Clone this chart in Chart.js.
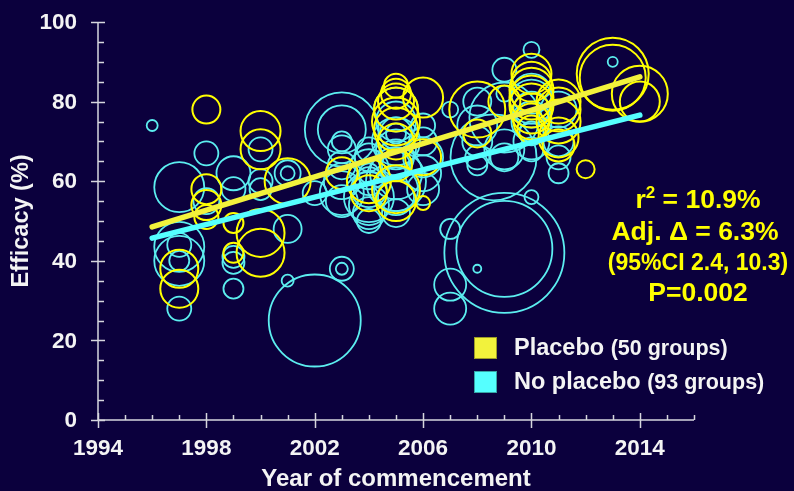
<!DOCTYPE html>
<html>
<head>
<meta charset="utf-8">
<script src="https://cdn.jsdelivr.net/npm/chart.js@4/dist/chart.umd.min.js"></script>
<style>
  html, body { margin: 0; padding: 0; background: #0b003d; }
  #wrap { width: 794px; height: 491px; }
  canvas { display: block; }
</style>
</head>
<body>
<div id="wrap"><canvas id="chart" width="794" height="491"></canvas></div>
<script>
// Each group: [year of commencement, efficacy (%), group size]
const placeboGroups = [
  [1997,38,1444],[1997,33,1444],
  [1998,78,784],[1998,58,900],[1998,54,900],[1998,51,576],
  [1999,49.5,400],[1999,42,400],
  [2000,72.6,1600],[2000,68,1600],[2000,47,2304],[2000,42,2304],
  [2001,60,2116],
  [2003,62,1024],
  [2004,60,1936],[2004,57,1296],
  [2005,84,576],[2005,82,900],[2005,80,1296],[2005,78,1936],[2005,75,2304],
  [2005,73,1936],[2005,70,1296],[2005,64,1024],[2005,58,2304],[2005,55,1600],
  [2006,81,1600],[2006,54.5,196],[2006,66,1296],
  [2008,78,3136],[2008,72,784],
  [2009,80,1024],
  [2010,87,1600],[2010,85,1600],[2010,83,1936],[2010,81,1936],[2010,79,1936],
  [2010,77,1600],[2010,75,1296],[2010,73,784],
  [2011,80,1936],[2011,78,1936],[2011,75,1936],[2011,71,1600],[2011,69,1024],
  [2012,63,324],
  [2013,87,5184],[2013,86,4356],
  [2014,82,3136],[2014,80,1600]
];

const noPlaceboGroups = [
  [1996,74,121],
  [1997,58.5,2500],[1997,43.5,2500],[1997,44,576],[1997,40,2500],[1997,40,400],[1997,28,576],
  [1998,67,576],[1998,55,676],
  [1999,62,1156],[1999,58,576],[1999,41,484],[1999,39.5,484],[1999,33,400],
  [2000,68,576],[2000,60,576],[2000,58,484],
  [2001,62,676],[2001,62,196],[2001,48,784],[2001,35,144],
  [2002,25,8464],[2002,57,576],
  [2003,73,5476],[2003,73,2304],[2003,70,400],[2003,38,576],[2003,38,144],
  [2003,64,784],[2003,60,1296],[2003,57,1936],[2003,55,1024],[2003,68,784],
  [2004,68,576],[2004,63,1600],[2004,60,784],[2004,58,1296],[2004,56,2500],
  [2004,54,1600],[2004,52,1024],[2004,50,576],[2004,62,400],[2004,66,784],
  [2005,78,1936],[2005,75,1600],[2005,72,1024],[2005,70,2304],[2005,68,1600],
  [2005,66,1296],[2005,64,784],[2005,62,2704],[2005,60,3600],[2005,58,1936],
  [2005,56,1296],[2005,72,400],[2005,52,784],
  [2006,70,784],[2006,66,1600],[2006,62,1296],[2006,58,1024],[2006,74,576],
  [2007,78,256],[2008.6,66,7400],[2007,48,400],[2007,34,1024],[2007,28,1024],
  [2008,74,1600],[2008,70,900],[2008,66,576],[2008,64,400],[2008,38,64],[2008,80,784],
  [2009,88,576],[2009,76,4900],[2009,68,1600],[2009,66,784],[2009,42,14400],[2009,43,9216],[2009,82,256],
  [2010,93,256],[2010,82,1600],[2010,80,1936],[2010,78,1296],[2010,75,1600],
  [2010,72,576],[2010,68,576],[2010,56,196],[2010,70,1296],
  [2011,78,1296],[2011,70,900],[2011,66,576],[2011,62,400],
  [2013,90,100]
];

// Fitted regression lines (year, efficacy)
const placeboFit = [[1996,48.5],[2014,86.2]];
const noPlaceboFit = [[1996,45.7],[2014,76.6]];

const yearTicks = [1994,1998,2002,2006,2010,2014];
const efficacyTicks = [0,20,40,60,80,100];
const xTitle = 'Year of commencement';
const yTitle = 'Efficacy (%)';
const statsLines = ['= 10.9%', 'Adj. Δ = 6.3%', '(95%CI 2.4, 10.3)', 'P=0.002'];
const legendNames = ['Placebo', 'No placebo'];
const legendCounts = ['(50 groups)', '(93 groups)'];

const YELLOW = '#ffff00';
const YELLOW_LINE = '#f2f23c';
const CYAN = '#5ceef0';
const CYAN_LINE = '#55ffff';
const AXIS = '#d6d6de';
const TEXT = '#f4f4f4';
const FONT = '"Liberation Sans", Arial, sans-serif';

const toBubbles = groups => groups.map(g => ({ x: g[0], y: g[1], r: Math.sqrt(g[2]) / 2 }));
const toLine = pts => pts.map(p => ({ x: p[0], y: p[1] }));

// Axes, titles, statistics and legend drawn around the plot
const decorations = {
  id: 'decorations',
  beforeDatasetsDraw(chart) {
    const { ctx, scales: { x, y } } = chart;
    const x0 = x.getPixelForValue(1994), x1 = x.getPixelForValue(2016);
    const y0 = y.getPixelForValue(0), y1 = y.getPixelForValue(100);
    ctx.save();
    ctx.strokeStyle = AXIS;
    ctx.lineWidth = 1.5;
    ctx.beginPath();
    ctx.moveTo(x0, y1); ctx.lineTo(x0, y0); ctx.lineTo(x1, y0);
    ctx.stroke();
    // y ticks
    for (let v = 0; v <= 100; v += 5) {
      const py = Math.round(y.getPixelForValue(v)) + 0.5;
      ctx.beginPath();
      if (efficacyTicks.includes(v)) { ctx.moveTo(x0 - 7, py); ctx.lineTo(x0 + 7, py); }
      else { ctx.moveTo(x0, py); ctx.lineTo(x0 + 6, py); }
      ctx.stroke();
    }
    // x ticks
    for (let yr = 1994; yr <= 2016; yr++) {
      const px = Math.round(x.getPixelForValue(yr)) + 0.5;
      ctx.beginPath();
      if (yearTicks.includes(yr)) { ctx.moveTo(px, y0 - 7); ctx.lineTo(px, y0 + 8); }
      else { ctx.moveTo(px, y0 - 5); ctx.lineTo(px, y0); }
      ctx.stroke();
    }
    ctx.fillStyle = TEXT;
    ctx.font = 'bold 22.5px ' + FONT;
    ctx.textAlign = 'right';
    ctx.textBaseline = 'middle';
    efficacyTicks.forEach(v => ctx.fillText(String(v), x0 - 21, y.getPixelForValue(v) + 1));
    ctx.textAlign = 'center';
    yearTicks.forEach(yr => ctx.fillText(String(yr), x.getPixelForValue(yr), y0 + 29));
    ctx.font = 'bold 24px ' + FONT;
    ctx.fillText(xTitle, (x0 + x1) / 2, y0 + 59);
    ctx.save();
    ctx.translate(22, (y0 + y1) / 2);
    ctx.rotate(-Math.PI / 2);
    ctx.font = 'bold 23.5px ' + FONT;
    ctx.fillText(yTitle, 0, 0);
    ctx.restore();
    ctx.restore();
  },
  afterDatasetsDraw(chart) {
    const { ctx } = chart;
    ctx.save();
    ctx.fillStyle = YELLOW;
    ctx.textBaseline = 'middle';
    const cx = 698;
    // r² line
    ctx.font = 'bold 26.5px ' + FONT;
    const rW = ctx.measureText('r').width;
    const rest = ' ' + statsLines[0];
    const restW = ctx.measureText(rest).width;
    ctx.font = 'bold 17px ' + FONT;
    const supW = ctx.measureText('2').width;
    const total = rW + supW + restW;
    const sx = cx - total / 2;
    ctx.textAlign = 'left';
    ctx.font = 'bold 26.5px ' + FONT;
    ctx.fillText('r', sx, 201);
    ctx.font = 'bold 17px ' + FONT;
    ctx.fillText('2', sx + rW, 193);
    ctx.font = 'bold 26.5px ' + FONT;
    ctx.fillText(rest, sx + rW + supW, 201);
    ctx.textAlign = 'center';
    ctx.fillText(statsLines[1], cx - 3, 233);
    ctx.font = 'bold 23px ' + FONT;
    ctx.fillText(statsLines[2], cx, 264);
    ctx.font = 'bold 26.5px ' + FONT;
    ctx.fillText(statsLines[3], cx, 294);
    // legend
    const sq = [[YELLOW_LINE, 337], [CYAN_LINE, 371]];
    sq.forEach(([c, top], i) => {
      ctx.fillStyle = c;
      ctx.fillRect(474, top, 23, 22);
      ctx.strokeStyle = 'rgba(0,0,0,0.35)';
      ctx.lineWidth = 1;
      ctx.strokeRect(474.5, top + 0.5, 22, 21);
      ctx.fillStyle = TEXT;
      ctx.textAlign = 'left';
      ctx.font = 'bold 23.5px ' + FONT;
      ctx.fillText(legendNames[i], 514, top + 12);
      const w = ctx.measureText(legendNames[i] + ' ').width;
      ctx.font = 'bold 21.5px ' + FONT;
      ctx.fillText(legendCounts[i], 514 + w, top + 12);
    });
    ctx.restore();
  }
};

new Chart(document.getElementById('chart'), {
  type: 'bubble',
  data: {
    datasets: [
      { type: 'line', data: toLine(placeboFit), borderColor: YELLOW_LINE, borderWidth: 5.5,
        borderCapStyle: 'round', pointRadius: 0, order: 0, clip: false },
      { type: 'line', data: toLine(noPlaceboFit), borderColor: CYAN_LINE, borderWidth: 5.5,
        borderCapStyle: 'round', pointRadius: 0, order: 0, clip: false },
      { type: 'bubble', data: toBubbles(placeboGroups), borderColor: YELLOW,
        backgroundColor: 'rgba(0,0,0,0)', borderWidth: 2, order: 1, clip: false },
      { type: 'bubble', data: toBubbles(noPlaceboGroups), borderColor: CYAN,
        backgroundColor: 'rgba(0,0,0,0)', borderWidth: 1.8, order: 2, clip: false }
    ]
  },
  options: {
    responsive: false,
    animation: false,
    devicePixelRatio: 1,
    layout: { autoPadding: false, padding: { left: 98, right: 100, top: 22, bottom: 71 } },
    scales: {
      x: { type: 'linear', min: 1994, max: 2016, display: false },
      y: { type: 'linear', min: 0, max: 100, display: false }
    },
    plugins: { legend: { display: false }, tooltip: { enabled: false } },
    events: []
  },
  plugins: [decorations]
});
</script>
</body>
</html>
